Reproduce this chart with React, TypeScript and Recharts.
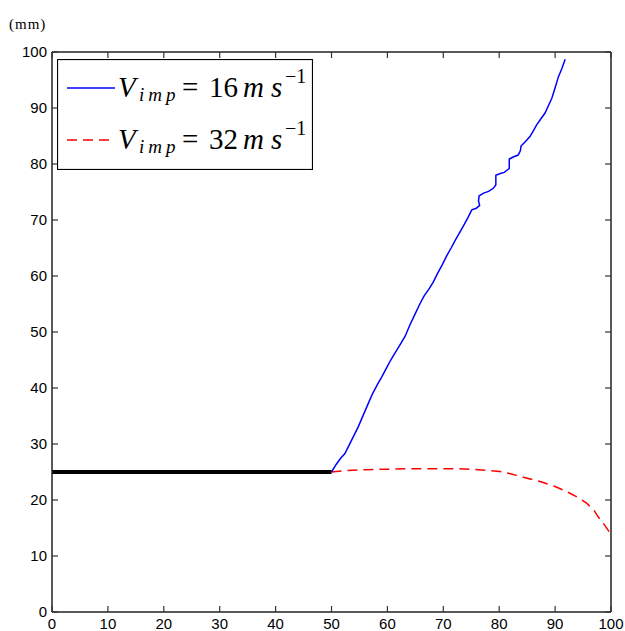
import { LineChart, Line, XAxis, YAxis, Legend, Label } from "recharts";

// axis values
const xTicks = [0, 10, 20, 30, 40, 50, 60, 70, 80, 90, 100];
const yTicks = [0, 10, 20, 30, 40, 50, 60, 70, 80, 90, 100];

// initial crack (thick black)
const initial = [
  { x: 0, y: 25 },
  { x: 50, y: 25 },
];

// V_imp = 16 m/s
const blueX = [
  50, 50.8, 51.6, 52.4, 53.2, 54.0, 54.8, 55.7, 56.6, 57.4, 58.2, 59.0, 59.8, 60.6, 61.4,
  62.3, 63.2, 64.0, 64.9, 65.8, 66.6, 67.4, 68.2, 69.0, 69.8, 70.6, 71.4, 72.2, 73.0, 73.8,
  74.5, 75.1, 75.9, 76.5, 76.3, 76.4, 77.2, 78.1, 79.0, 79.4, 79.4, 80.2, 80.9, 81.8, 81.8,
  82.6, 83.4, 83.8, 83.9, 84.7, 85.5, 86.1, 86.7, 87.4, 88.2, 88.8, 89.4, 90.0, 90.6, 91.2, 91.8,
];
const blueY = [
  25, 26.3, 27.4, 28.3, 29.9, 31.5, 33.1, 35.2, 37.3, 39.1, 40.6, 42.0, 43.5, 45.0, 46.3,
  47.8, 49.3, 51.2, 53.1, 55.0, 56.5, 57.6, 58.9, 60.5, 62.0, 63.6, 65.0, 66.5, 67.9, 69.3,
  70.6, 71.8, 72.1, 72.6, 73.4, 74.3, 74.8, 75.1, 75.7, 76.3, 78.0, 78.3, 78.5, 79.2, 80.9,
  81.3, 81.6, 82.4, 83.2, 84.0, 84.9, 85.9, 87.0, 88.0, 89.1, 90.4, 91.7, 93.6, 95.6, 97.0, 98.7,
];

// V_imp = 32 m/s
const redX = [50, 52, 55, 60, 65, 70, 72.4, 75, 78, 80.1, 82, 83.1, 85, 87.3, 90, 92.1, 94, 95.7, 97, 97.7, 98.8, 99.7];
const redY = [25.0, 25.2, 25.4, 25.5, 25.6, 25.6, 25.6, 25.5, 25.3, 25.1, 24.7, 24.4, 23.9, 23.3, 22.4, 21.5, 20.5, 19.4, 18.1, 17.0, 15.6, 14.3];

const blue = blueX.map((x, i) => ({ x, y: blueY[i] }));
const red = redX.map((x, i) => ({ x, y: redY[i] }));

const sans = "'Liberation Sans', Arial, Helvetica, sans-serif";
const mathFont = "'Liberation Serif', 'Times New Roman', serif";
const TICK = 6;

// matlab-style ticks: short marks pointing into the plot, labels outside
function BottomTick({ x, y, payload }: any) {
  return (
    <g>
      <line x1={x} x2={x} y1={y} y2={y - TICK} stroke="#333" strokeWidth={1.2} />
      <text x={x} y={y + 17} textAnchor="middle" fontFamily={sans} fontSize={15} fill="#000">
        {payload.value}
      </text>
    </g>
  );
}
function LeftTick({ x, y, payload }: any) {
  return (
    <g>
      <line x1={x} x2={x + TICK} y1={y} y2={y} stroke="#333" strokeWidth={1.2} />
      <text x={x - 5} y={y + 5} textAnchor="end" fontFamily={sans} fontSize={15} fill="#000">
        {payload.value}
      </text>
    </g>
  );
}
function TopTick({ x, y }: any) {
  return <line x1={x} x2={x} y1={y} y2={y + TICK} stroke="#333" strokeWidth={1.2} />;
}
function RightTick({ x, y }: any) {
  return <line x1={x} x2={x - TICK} y1={y} y2={y} stroke="#333" strokeWidth={1.2} />;
}

function LegendRow({ top, color, dash, num }: { top: number; color: string; dash?: string; num: string }) {
  return (
    <g>
      <line x1={10} x2={58} y1={top} y2={top} stroke={color} strokeWidth={1.5} strokeDasharray={dash} />
      <text fontFamily={mathFont} fontSize={29} fill="#000">
        <tspan x={61} y={top + 9} fontStyle="italic">V</tspan>
        <tspan x={82} y={top + 13} fontSize={19} fontStyle="italic" letterSpacing={4}>imp</tspan>
        <tspan x={125} y={top + 9}>=</tspan>
        <tspan x={152} y={top + 9}>{num}</tspan>
        <tspan x={186} y={top + 9} fontStyle="italic">m</tspan>
        <tspan x={214} y={top + 9} fontStyle="italic">s</tspan>
        <tspan x={228} y={top - 5} fontSize={20}>−1</tspan>
      </text>
    </g>
  );
}

function LegendBox() {
  return (
    <svg width={256} height={111} style={{ display: "block" }}>
      <rect x={0.5} y={0.5} width={255} height={110} fill="#fff" stroke="#000" strokeWidth={1.2} />
      <LegendRow top={29} color="#0000ff" num="16" />
      <LegendRow top={81} color="#ff0000" dash="10 6" num="32" />
    </svg>
  );
}

export default function App() {
  return (
    <div style={{ position: "absolute", left: 0, top: 0, background: "#fff" }}>
      <LineChart width={625} height={631} margin={{ top: 51, right: 13, bottom: 0, left: 0 }}>
        <XAxis
          xAxisId="bottom"
          dataKey="x"
          type="number"
          domain={[0, 100]}
          ticks={xTicks}
          interval={0}
          height={19}
          tickSize={0}
          tickMargin={0}
          tickLine={false}
          tick={<BottomTick />}
          stroke="#222"
          strokeWidth={1.5}
        />
        <XAxis
          xAxisId="top"
          orientation="top"
          dataKey="x"
          type="number"
          domain={[0, 100]}
          ticks={xTicks}
          interval={0}
          height={1}
          tickSize={0}
          tickMargin={0}
          tickLine={false}
          tick={<TopTick />}
          stroke="#222"
          strokeWidth={1.5}
        />
        <YAxis
          yAxisId="left"
          type="number"
          domain={[0, 100]}
          ticks={yTicks}
          interval={0}
          width={52}
          tickSize={0}
          tickMargin={0}
          tickLine={false}
          tick={<LeftTick />}
          stroke="#222"
          strokeWidth={1.5}
        >
          <Label
            content={() => (
              <text x={9} y={29} fontFamily={mathFont} fontSize={15} letterSpacing={1} fill="#000">
                (mm)
              </text>
            )}
          />
        </YAxis>
        <YAxis
          yAxisId="right"
          orientation="right"
          type="number"
          domain={[0, 100]}
          ticks={yTicks}
          interval={0}
          width={1}
          tickSize={0}
          tickMargin={0}
          tickLine={false}
          tick={<RightTick />}
          stroke="#222"
          strokeWidth={1.5}
        />
        <Legend
          layout="horizontal"
          verticalAlign="middle"
          align="center"
          wrapperStyle={{ left: 57, top: 59, width: 256, height: 111 }}
          content={() => <LegendBox />}
        />
        <Line
          xAxisId="bottom"
          yAxisId="left"
          data={red}
          dataKey="y"
          stroke="#ff0000"
          strokeWidth={1.5}
          strokeDasharray="10 6"
          dot={false}
          activeDot={false}
          isAnimationActive={false}
        />
        <Line
          xAxisId="bottom"
          yAxisId="left"
          data={blue}
          dataKey="y"
          stroke="#0000ff"
          strokeWidth={1.5}
          dot={false}
          activeDot={false}
          isAnimationActive={false}
        />
        <Line
          xAxisId="top"
          yAxisId="right"
          data={initial}
          dataKey="y"
          stroke="#000"
          strokeWidth={4}
          dot={false}
          activeDot={false}
          isAnimationActive={false}
        />
      </LineChart>
    </div>
  );
}
